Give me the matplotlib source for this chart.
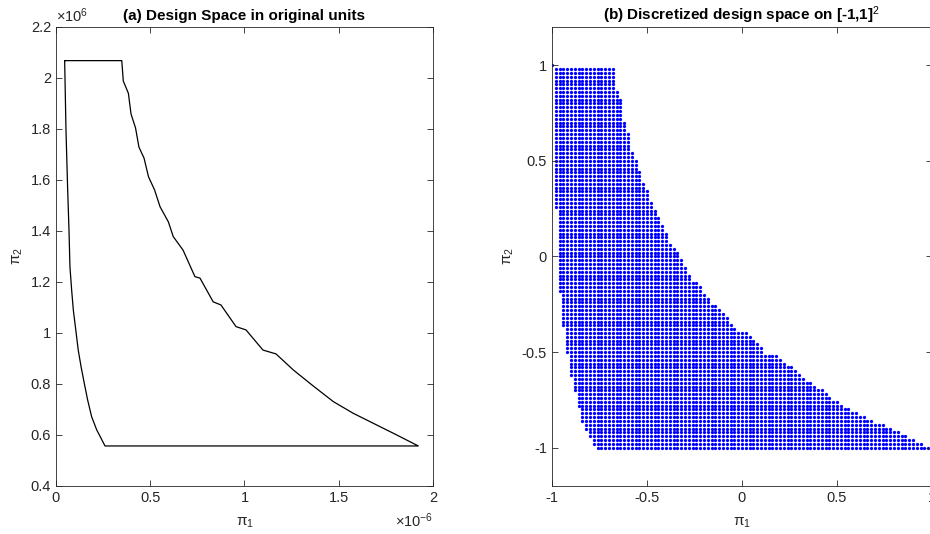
import numpy as np
import matplotlib
matplotlib.use("Agg")
import matplotlib.pyplot as plt
from matplotlib.ticker import FuncFormatter

plt.rcParams['font.family'] = ['Liberation Sans', 'DejaVu Sans']
plt.rcParams['mathtext.fontset'] = 'custom'
plt.rcParams['mathtext.rm'] = 'Liberation Sans'
plt.rcParams['mathtext.it'] = 'Liberation Sans'

# design space boundary, pi_1 in units of 1e-6, pi_2 in units of 1e6
# upper/right curve, from top-left corner to bottom-right corner
right_x = [0.046, 0.349, 0.357, 0.384, 0.398, 0.422, 0.440, 0.467, 0.491, 0.523,
           0.552, 0.596, 0.622, 0.674, 0.737, 0.764, 0.834, 0.875, 0.955, 1.008,
           1.098, 1.167, 1.259, 1.365, 1.471, 1.577, 1.683, 1.789, 1.922]
right_y = [2.068, 2.068, 1.988, 1.940, 1.859, 1.804, 1.729, 1.686, 1.612, 1.561,
           1.495, 1.436, 1.378, 1.325, 1.221, 1.215, 1.122, 1.110, 1.025, 1.012,
           0.933, 0.918, 0.855, 0.792, 0.731, 0.685, 0.646, 0.607, 0.557]
# lower/left curve, from bottom-right corner back to top-left corner
left_x = [1.922, 0.260, 0.233, 0.216, 0.189, 0.168, 0.150, 0.133, 0.118, 0.105,
          0.092, 0.083, 0.074, 0.069, 0.062, 0.053, 0.046]
left_y = [0.557, 0.557, 0.596, 0.620, 0.672, 0.737, 0.803, 0.868, 0.933, 1.012,
          1.090, 1.169, 1.260, 1.404, 1.561, 1.796, 2.068]

grid_step = 0.02   # spacing of the discretization on [-1,1]^2

fig = plt.figure(figsize=(9.3, 5.34), dpi=100)
ax1 = fig.add_axes([0.0602, 0.0899, 0.4054, 0.8596])
ax2 = fig.add_axes([0.5935, 0.0899, 0.4086, 0.8596])

gray = '#262626'
fmt = FuncFormatter(lambda v, p: '%g' % round(v, 6))
for ax in (ax1, ax2):
    ax.tick_params(direction='in', top=True, right=True, length=4, width=0.6,
                   labelsize=10.5, colors=gray)
    for s in ax.spines.values():
        s.set_color(gray)
        s.set_linewidth(0.6)
    ax.xaxis.set_major_formatter(fmt)
    ax.yaxis.set_major_formatter(fmt)

# (a) original units
ax1.plot(right_x + left_x[1:], right_y + left_y[1:], color='black', lw=0.9)
ax1.set_xlim(0, 2)
ax1.set_ylim(0.4, 2.2)
ax1.set_xticks(np.arange(0, 2.01, 0.5))
ax1.set_yticks(np.arange(0.4, 2.21, 0.2))
ax1.set_title('(a) Design Space in original units', fontsize=11, fontweight='bold', pad=5)
ax1.set_xlabel(r'$\pi_1$', fontsize=11, color=gray, labelpad=8)
ax1.set_ylabel(r'$\pi_2$', fontsize=11, color=gray, labelpad=4)
ax1.text(0.0, 1.005, r'$\times10^{6}$', transform=ax1.transAxes, fontsize=10.5,
         color=gray, ha='left', va='bottom')
ax1.text(1.0, -0.055, r'$\times10^{-6}$', transform=ax1.transAxes, fontsize=10.5,
         color=gray, ha='right', va='top')

# (b) discretized design space, linear map onto [-1,1]^2
xmin, xmax = min(left_x + right_x), max(left_x + right_x)
ymin, ymax = min(left_y + right_y), max(left_y + right_y)
def nx(v):
    return (np.asarray(v) - xmin) / (xmax - xmin) * 2 - 1
def ny(v):
    return (np.asarray(v) - ymin) / (ymax - ymin) * 2 - 1

lx, ly = nx(left_x[1:]), ny(left_y[1:])
rx, ry = nx(right_x), ny(right_y)
g = np.round(np.arange(-1, 1 + grid_step / 2, grid_step), 10)
px, py = [], []
eps = 1e-9
for yv in g:
    xl = np.interp(yv, ly, lx)
    xr = np.interp(yv, ry[::-1], rx[::-1])
    sel = g[(g >= xl - eps) & (g <= xr + eps)]
    px.extend(sel)
    py.extend([yv] * len(sel))

ax2.scatter(px, py, s=5.5, marker='o', color='#0000ff', linewidths=0)
ax2.set_xlim(-1, 1)
ax2.set_ylim(-1.2, 1.2)
ax2.set_xticks([-1, -0.5, 0, 0.5, 1])
ax2.set_yticks([-1, -0.5, 0, 0.5, 1])
ax2.set_title('(b) Discretized design space on [-1,1]$^2$', fontsize=11,
              fontweight='bold', pad=5)
ax2.set_xlabel(r'$\pi_1$', fontsize=11, color=gray, labelpad=8)
ax2.set_ylabel(r'$\pi_2$', fontsize=11, color=gray, labelpad=4)

fig.savefig('out.png', dpi=100)
